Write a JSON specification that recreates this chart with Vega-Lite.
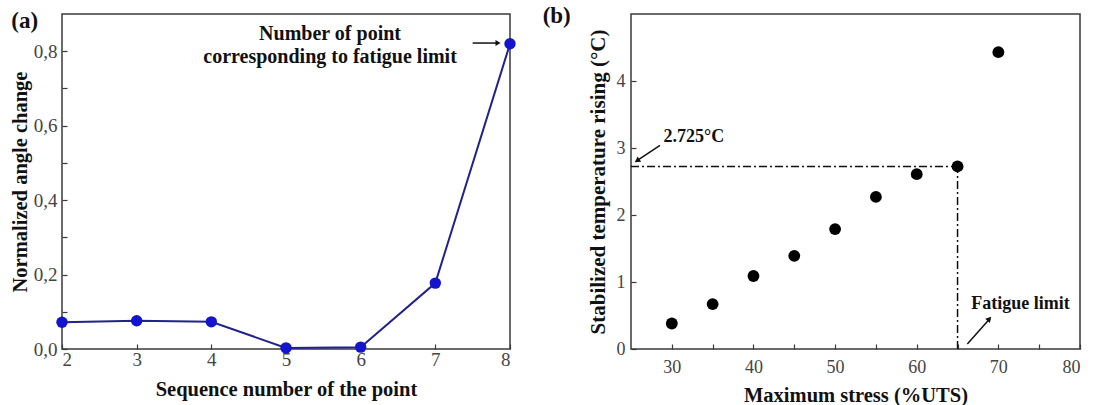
{
  "$schema": "https://vega.github.io/schema/vega-lite/v6.json",
  "background": "white",
  "padding": {"left": 9, "top": 4, "right": 5, "bottom": 0},
  "bounds": "flush",
  "spacing": 121,
  "config": {
    "font": "Liberation Serif",
    "view": {"stroke": "#3a3a3a", "strokeWidth": 1.5},
    "axis": {
      "domain": false,
      "grid": false,
      "tickColor": "#3a3a3a",
      "tickSize": -5,
      "tickWidth": 1.2,
      "labelFont": "Liberation Serif",
      "labelColor": "#444444",
      "labelFontSize": 19,
      "titleFont": "Liberation Serif",
      "titleFontWeight": "bold",
      "titleFontSize": 20.5,
      "titleColor": "#111111"
    }
  },
  "datasets": {
    "a": [
      {"seq": 2, "val": 0.072},
      {"seq": 3, "val": 0.076},
      {"seq": 4, "val": 0.073},
      {"seq": 5, "val": 0.003},
      {"seq": 6, "val": 0.005},
      {"seq": 7, "val": 0.177},
      {"seq": 8, "val": 0.82}
    ],
    "aText": [
      {"x": 5.59, "y": 0.846, "t": "Number of point"},
      {"x": 5.59, "y": 0.785, "t": "corresponding to fatigue limit"}
    ],
    "aArrow": [{"x": 7.5, "y": 0.822, "x2": 7.84, "y2": 0.822}],
    "aHead": [{"x": 7.84, "y": 0.822}],
    "aLabel": [{"x": 1.5, "y": 0.88, "t": "(a)"}],
    "b": [
      {"stress": 30, "temp": 0.38},
      {"stress": 35, "temp": 0.67},
      {"stress": 40, "temp": 1.09},
      {"stress": 45, "temp": 1.39},
      {"stress": 50, "temp": 1.79},
      {"stress": 55, "temp": 2.27},
      {"stress": 60, "temp": 2.61},
      {"stress": 65, "temp": 2.725},
      {"stress": 70, "temp": 4.43}
    ],
    "bRefs": [
      {"x": 25, "y": 2.725, "x2": 65, "y2": 2.725},
      {"x": 65, "y": 0, "x2": 65, "y2": 2.725}
    ],
    "bText": [
      {"x": 32.7, "y": 3.16, "t": "2.725°C"},
      {"x": 72.7, "y": 0.67, "t": "Fatigue limit"}
    ],
    "bArrow1": [{"x": 28.55, "y": 3.04, "x2": 25.6, "y2": 2.8}],
    "bHead1": [{"x": 25.75, "y": 2.81}],
    "bArrow2": [{"x": 66.2, "y": 0.075, "x2": 69.0, "y2": 0.46}],
    "bHead2": [{"x": 68.9, "y": 0.45}],
    "bLabel": [{"x": 15.9, "y": 4.97, "t": "(b)"}]
  },
  "hconcat": [
    {
      "width": 448,
      "height": 335,
      "layer": [
        {
          "data": {"name": "a"},
          "mark": {"type": "line", "color": "#22228c", "strokeWidth": 2},
          "encoding": {
            "x": {
              "field": "seq", "type": "quantitative",
              "scale": {"domain": [2, 8], "nice": false, "zero": false},
              "axis": {"values": [2, 3, 4, 5, 6, 7, 8], "format": "d", "labelPadding": 6, "title": "Sequence number of the point", "titlePadding": 10}
            },
            "y": {
              "field": "val", "type": "quantitative",
              "scale": {"domain": [0, 0.9], "nice": false},
              "axis": {
                "values": [0, 0.1, 0.2, 0.3, 0.4, 0.5, 0.6, 0.7, 0.8],
                "labelExpr": "round(datum.value*10)%2==0 ? replace(format(datum.value,'.1f'),'.',',') : ''",
                "labelPadding": 10,
                "title": "Normalized angle change",
                "titlePadding": 3
              }
            }
          }
        },
        {
          "data": {"name": "a"},
          "mark": {"type": "point", "filled": true, "size": 130, "color": "#1414cc", "opacity": 1},
          "encoding": {
            "x": {"field": "seq", "type": "quantitative"},
            "y": {"field": "val", "type": "quantitative"}
          }
        },
        {
          "data": {"name": "aText"},
          "mark": {"type": "text", "font": "Liberation Serif", "fontWeight": "bold", "fontSize": 20, "color": "#111111", "align": "center", "baseline": "middle"},
          "encoding": {
            "x": {"field": "x", "type": "quantitative"},
            "y": {"field": "y", "type": "quantitative"},
            "text": {"field": "t"}
          }
        },
        {
          "data": {"name": "aArrow"},
          "mark": {"type": "rule", "color": "#111111", "strokeWidth": 1.5},
          "encoding": {
            "x": {"field": "x", "type": "quantitative"},
            "y": {"field": "y", "type": "quantitative"},
            "x2": {"field": "x2"},
            "y2": {"field": "y2"}
          }
        },
        {
          "data": {"name": "aHead"},
          "mark": {"type": "point", "shape": "triangle-right", "filled": true, "size": 35, "color": "#111111", "opacity": 1},
          "encoding": {
            "x": {"field": "x", "type": "quantitative"},
            "y": {"field": "y", "type": "quantitative"}
          }
        },
        {
          "data": {"name": "aLabel"},
          "mark": {"type": "text", "font": "Liberation Serif", "fontWeight": "bold", "fontSize": 23, "color": "#111111", "align": "center", "baseline": "middle"},
          "encoding": {
            "x": {"field": "x", "type": "quantitative"},
            "y": {"field": "y", "type": "quantitative"},
            "text": {"field": "t"}
          }
        }
      ]
    },
    {
      "width": 449,
      "height": 335,
      "layer": [
        {
          "data": {"name": "bRefs"},
          "mark": {"type": "rule", "color": "#111111", "strokeWidth": 1.5, "strokeDash": [8, 3, 2, 3]},
          "encoding": {
            "x": {
              "field": "x", "type": "quantitative",
              "scale": {"domain": [25, 80], "nice": false, "zero": false},
              "axis": {
                "values": [30, 35, 40, 45, 50, 55, 60, 65, 70, 75, 80],
                "labelExpr": "datum.value % 10 == 0 ? format(datum.value, 'd') : ''",
                "labelPadding": 14,
                "labelFontSize": 18,
                "title": "Maximum stress (%UTS)",
                "titlePadding": 9
              }
            },
            "y": {
              "field": "y", "type": "quantitative",
              "scale": {"domain": [0, 5], "nice": false},
              "axis": {
                "values": [0, 0.5, 1, 1.5, 2, 2.5, 3, 3.5, 4, 4.5],
                "labelExpr": "datum.value % 1 == 0 ? format(datum.value, 'd') : ''",
                "labelPadding": 11,
                "labelFontSize": 18,
                "title": "Stabilized temperature rising (°C)",
                "titleFontSize": 21,
                "titlePadding": 8
              }
            },
            "x2": {"field": "x2"},
            "y2": {"field": "y2"}
          }
        },
        {
          "data": {"name": "b"},
          "mark": {"type": "point", "filled": true, "size": 140, "color": "#000000", "opacity": 1},
          "encoding": {
            "x": {"field": "stress", "type": "quantitative"},
            "y": {"field": "temp", "type": "quantitative"}
          }
        },
        {
          "data": {"name": "bText"},
          "mark": {"type": "text", "font": "Liberation Serif", "fontWeight": "bold", "fontSize": 18, "color": "#111111", "align": "center", "baseline": "middle"},
          "encoding": {
            "x": {"field": "x", "type": "quantitative"},
            "y": {"field": "y", "type": "quantitative"},
            "text": {"field": "t"}
          }
        },
        {
          "data": {"name": "bArrow1"},
          "mark": {"type": "rule", "color": "#111111", "strokeWidth": 1.5},
          "encoding": {
            "x": {"field": "x", "type": "quantitative"},
            "y": {"field": "y", "type": "quantitative"},
            "x2": {"field": "x2"},
            "y2": {"field": "y2"}
          }
        },
        {
          "data": {"name": "bHead1"},
          "mark": {"type": "point", "shape": "triangle-up", "angle": 236, "filled": true, "size": 40, "color": "#111111", "opacity": 1},
          "encoding": {
            "x": {"field": "x", "type": "quantitative"},
            "y": {"field": "y", "type": "quantitative"}
          }
        },
        {
          "data": {"name": "bArrow2"},
          "mark": {"type": "rule", "color": "#111111", "strokeWidth": 1.5},
          "encoding": {
            "x": {"field": "x", "type": "quantitative"},
            "y": {"field": "y", "type": "quantitative"},
            "x2": {"field": "x2"},
            "y2": {"field": "y2"}
          }
        },
        {
          "data": {"name": "bHead2"},
          "mark": {"type": "point", "shape": "triangle-up", "angle": 43, "filled": true, "size": 40, "color": "#111111", "opacity": 1},
          "encoding": {
            "x": {"field": "x", "type": "quantitative"},
            "y": {"field": "y", "type": "quantitative"}
          }
        },
        {
          "data": {"name": "bLabel"},
          "mark": {"type": "text", "font": "Liberation Serif", "fontWeight": "bold", "fontSize": 23, "color": "#111111", "align": "center", "baseline": "middle"},
          "encoding": {
            "x": {"field": "x", "type": "quantitative"},
            "y": {"field": "y", "type": "quantitative"},
            "text": {"field": "t"}
          }
        }
      ]
    }
  ]
}
